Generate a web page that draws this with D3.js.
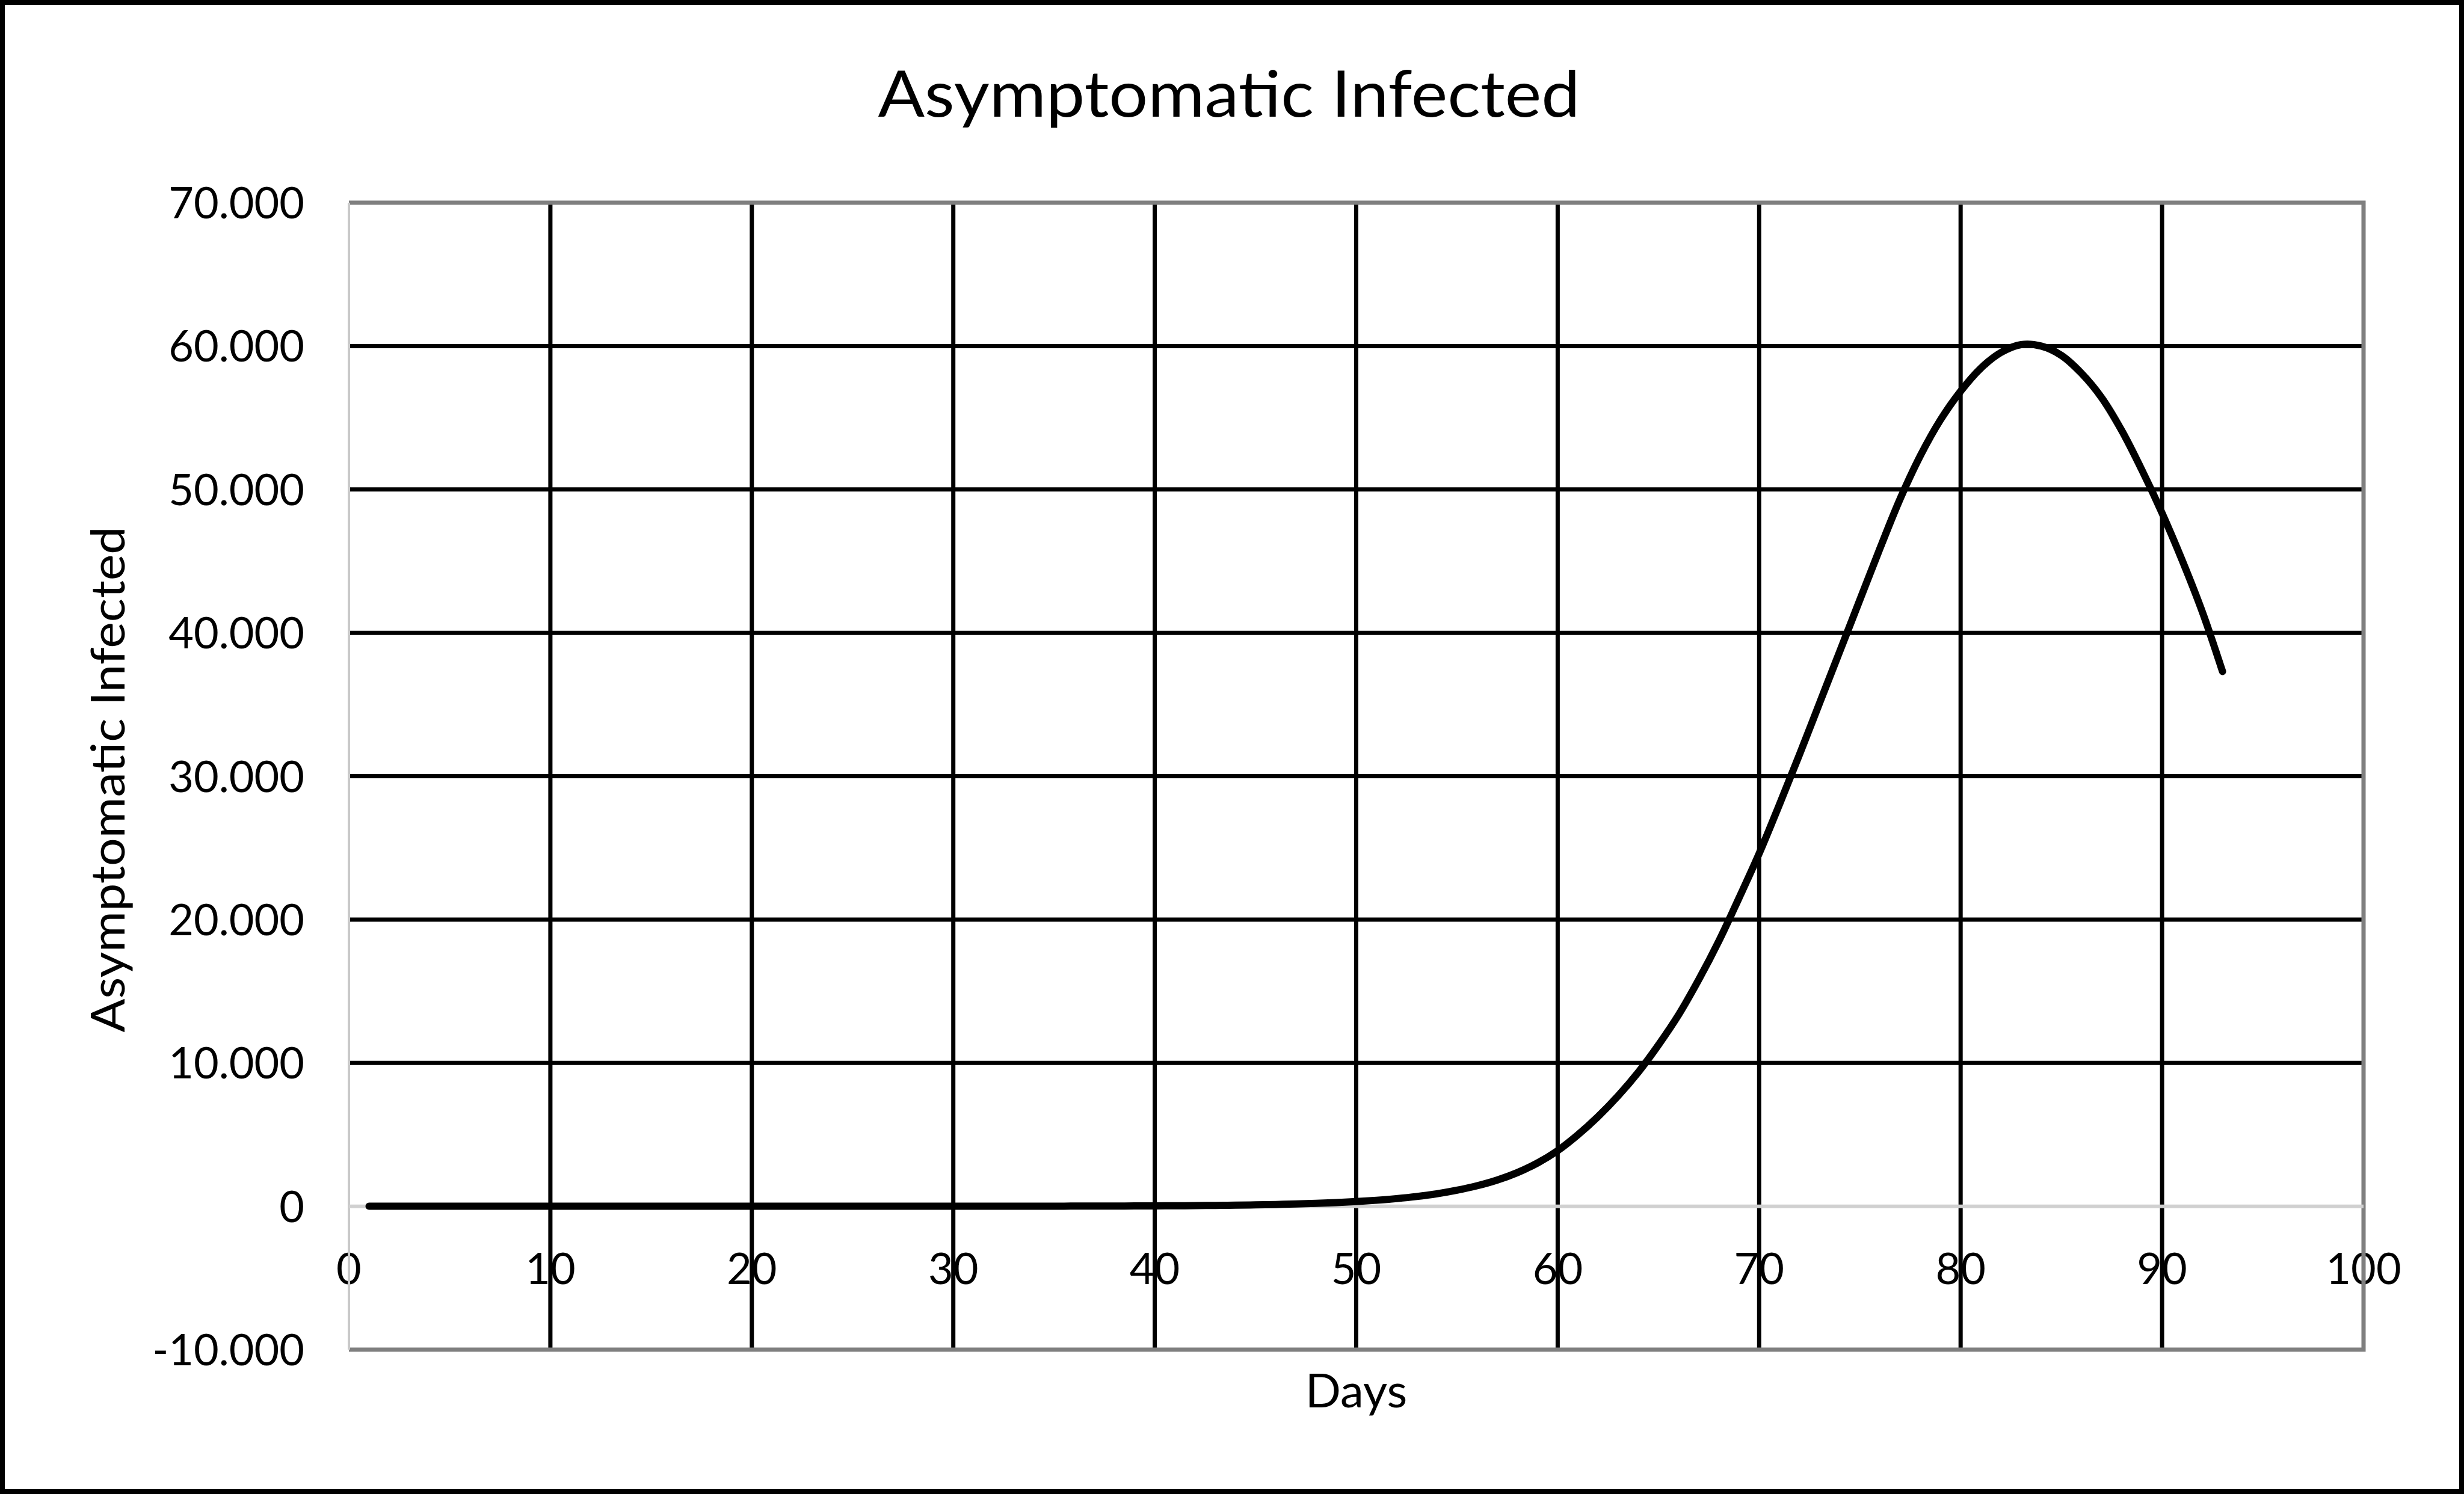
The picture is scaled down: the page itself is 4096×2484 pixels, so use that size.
<!DOCTYPE html>
<html>
<head>
<meta charset="utf-8">
<script src="https://cdn.jsdelivr.net/npm/d3@7"></script>
<style>
  html, body { margin: 0; padding: 0; background: #ffffff; }
  svg { display: block; }
  text { font-family: Lato, "Open Sans", sans-serif; fill: #000; }
</style>
</head>
<body>
<script>
// ---------- data ----------
const chartTitle = "Asymptomatic Infected";
const xAxisTitle = "Days";
const yAxisTitle = "Asymptomatic Infected";

const days = d3.range(1, 94); // day 1 .. 93
const infected = [
  1, 1, 1, 1, 1, 1, 1, 1, 1, 1,
  1, 1, 1, 1, 1, 1, 1, 1, 1, 1,
  1, 1, 1, 2, 2, 2, 2, 2, 2, 3,
  3, 4, 5, 7, 9, 11, 14, 18, 23, 29,
  37, 47, 60, 77, 98, 125, 159, 203, 259, 330,
  420, 535, 680, 870, 1120, 1430, 1830, 2350, 3020, 3880,
  4980, 6250, 7700, 9350, 11250, 13350, 15800, 18500, 21500, 24600,
  28000, 31500, 35100, 38700, 42300, 45900, 49350, 52350, 54850, 56850,
  58450, 59550, 60100, 60000, 59350, 58100, 56400, 54100, 51350, 48350,
  45050, 41450, 37300
];

const xTicks = [0, 10, 20, 30, 40, 50, 60, 70, 80, 90, 100];
const yTicks = [-10000, 0, 10000, 20000, 30000, 40000, 50000, 60000, 70000];
const yTickLabels = ["-10.000", "0", "10.000", "20.000", "30.000", "40.000", "50.000", "60.000", "70.000"];

// ---------- layout ----------
const W = 4096, H = 2484;
const plot = { left: 580, right: 3929, top: 337, bottom: 2244 };

const x = d3.scaleLinear().domain([0, 100]).range([plot.left, plot.right]);
const y = d3.scaleLinear().domain([-10000, 70000]).range([plot.bottom, plot.top]);

const svg = d3.select("body").append("svg")
  .attr("width", W).attr("height", H)
  .attr("viewBox", `0 0 ${W} ${H}`);

svg.append("rect").attr("x", 0).attr("y", 0).attr("width", W).attr("height", H).attr("fill", "#fff");

// title
svg.append("text")
  .attr("x", 2043).attr("y", 194)
  .attr("text-anchor", "middle")
  .attr("font-size", 107)
  .attr("textLength", 1167)
  .attr("lengthAdjust", "spacingAndGlyphs")
  .text(chartTitle);

// y tick labels
svg.append("g").selectAll("text")
  .data(yTicks)
  .join("text")
  .attr("x", 506)
  .attr("y", d => y(d) + 26)
  .attr("text-anchor", "end")
  .attr("font-size", 72)
  .text((d, i) => yTickLabels[i]);

// x tick labels (sit just below the zero axis line)
svg.append("g").selectAll("text")
  .data(xTicks)
  .join("text")
  .attr("x", d => x(d))
  .attr("y", y(0) + 129)
  .attr("text-anchor", "middle")
  .attr("font-size", 72)
  .text(d => d);

// axis titles
svg.append("text")
  .attr("x", (plot.left + plot.right) / 2).attr("y", 2340)
  .attr("text-anchor", "middle")
  .attr("font-size", 78)
  .text(xAxisTitle);

svg.append("text")
  .attr("transform", "translate(207,1296) rotate(-90)")
  .attr("text-anchor", "middle")
  .attr("font-size", 78)
  .attr("textLength", 841)
  .attr("lengthAdjust", "spacingAndGlyphs")
  .text(yAxisTitle);

// gridlines
const grid = svg.append("g").attr("stroke", "#000").attr("stroke-width", 7);
grid.selectAll("line.h")
  .data(yTicks.filter(d => d > 0 && d < 70000))
  .join("line")
  .attr("x1", plot.left).attr("x2", plot.right)
  .attr("y1", d => y(d)).attr("y2", d => y(d));
grid.selectAll("line.v")
  .data(xTicks.filter(d => d > 0 && d < 100))
  .join("line")
  .attr("x1", d => x(d)).attr("x2", d => x(d))
  .attr("y1", plot.top).attr("y2", plot.bottom);

// plot area border (top, right, bottom)
svg.append("path")
  .attr("d", `M${plot.left},${plot.top}H${plot.right}V${plot.bottom}H${plot.left}`)
  .attr("fill", "none")
  .attr("stroke", "#7f7f7f")
  .attr("stroke-width", 7);

// vertical axis line (left) and horizontal axis line at zero
svg.append("line")
  .attr("x1", plot.left).attr("x2", plot.left)
  .attr("y1", plot.top).attr("y2", plot.bottom)
  .attr("stroke", "#c9c9c9").attr("stroke-width", 4);
svg.append("line")
  .attr("x1", plot.left).attr("x2", plot.right)
  .attr("y1", y(0)).attr("y2", y(0))
  .attr("stroke", "#d0d0d0").attr("stroke-width", 6);

// series line
const line = d3.line()
  .x((d, i) => x(days[i]))
  .y(d => y(d))
  .curve(d3.curveCatmullRom.alpha(0.5));

svg.append("path")
  .datum(infected)
  .attr("d", line)
  .attr("fill", "none")
  .attr("stroke", "#000")
  .attr("stroke-width", 12)
  .attr("stroke-linecap", "round")
  .attr("stroke-linejoin", "round");

// outer chart border
svg.append("rect")
  .attr("x", 4).attr("y", 4)
  .attr("width", W - 8).attr("height", H - 8)
  .attr("fill", "none")
  .attr("stroke", "#000")
  .attr("stroke-width", 8);
</script>
</body>
</html>
